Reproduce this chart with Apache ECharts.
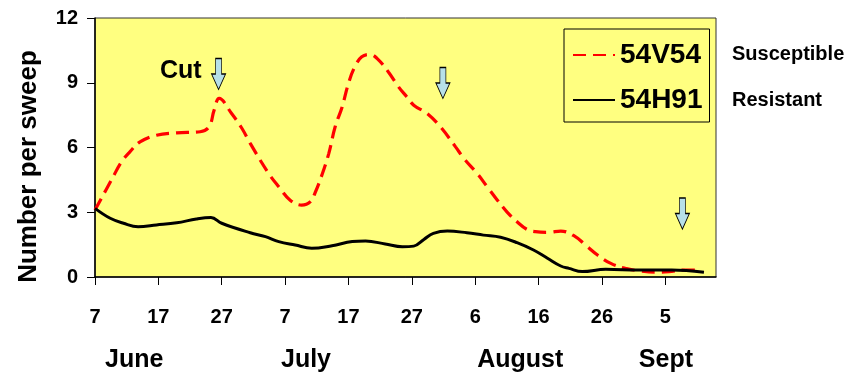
<!DOCTYPE html>
<html>
<head>
<meta charset="utf-8">
<script src="https://cdn.jsdelivr.net/npm/echarts@6/dist/echarts.min.js"></script>
<style>
html,body{margin:0;padding:0;background:#fff;}
#chart{width:852px;height:377px;}
</style>
</head>
<body>
<div id="chart"></div>
<script>
// Days counted from June 7
var tickDays = [0, 10, 20, 30, 40, 50, 60, 70, 80, 90];
var tickLabels = ['7', '17', '27', '7', '17', '27', '6', '16', '26', '5'];
var monthDays = [6.2, 33.3, 67.1, 90.1];
var monthNames = ['June', 'July', 'August', 'Sept'];

var suscDays = [0, 2.6, 4.2, 5.5, 7.1, 9.7, 12.9, 16.6, 18, 18.8, 19.6, 21.5, 23.2, 24.5, 27.4, 29, 30.8, 32.6, 34, 34.8, 35.8, 36.9, 37.9, 39, 40, 41, 42.1, 43.4, 44.5, 46.3, 47.9, 49.2, 50.3, 52.4, 54.5, 56.9, 58.2, 60.3, 61.9, 63.5, 65, 66.6, 68.2, 69.5, 71.6, 73.5, 75.8, 77.4, 79.3, 81.4, 83.7, 85.8, 88.5, 90.6, 92.7, 94.8];
var suscValues = [3.1, 4.5, 5.34, 5.8, 6.26, 6.57, 6.68, 6.73, 6.96, 7.73, 8.28, 7.6, 6.88, 6.19, 4.8, 4.18, 3.56, 3.33, 3.49, 3.95, 4.72, 5.73, 6.96, 7.88, 8.97, 9.74, 10.2, 10.31, 10.13, 9.5, 8.81, 8.35, 7.96, 7.58, 6.96, 6.03, 5.5, 4.8, 4.18, 3.56, 3.02, 2.56, 2.2, 2.1, 2.07, 2.13, 1.87, 1.48, 1.02, 0.63, 0.4, 0.29, 0.22, 0.25, 0.32, 0.32];

var resDays = [0, 2.4, 4.5, 6.8, 9.7, 12.9, 16, 18.3, 20, 24.5, 26.9, 29, 31.6, 34.2, 37.4, 40.6, 42.7, 45.8, 48.5, 50.3, 51.9, 53.4, 55.6, 58.7, 61.3, 64, 66.6, 69.2, 71.4, 73.5, 74.8, 76.9, 80.6, 85.8, 91, 96.1];
var resValues = [3.18, 2.72, 2.49, 2.33, 2.41, 2.51, 2.69, 2.76, 2.49, 2.05, 1.87, 1.64, 1.48, 1.33, 1.45, 1.64, 1.67, 1.53, 1.4, 1.43, 1.74, 2.02, 2.13, 2.05, 1.94, 1.84, 1.59, 1.25, 0.87, 0.51, 0.4, 0.25, 0.36, 0.32, 0.32, 0.22];

var arrowDays = [19.5, 54.9, 92.7];
var arrowTips = [8.69, 8.27, 2.22];

function pairs(xs, ys) { return xs.map(function (x, i) { return [x, ys[i]]; }); }

var FONT = "'Liberation Sans', Arial, sans-serif";

var chart = echarts.init(document.getElementById('chart'), null, {renderer: 'canvas'});
var option = {
  animation: false,
  backgroundColor: '#ffffff',
  grid: {left: 95, top: 18, right: 136, bottom: 100, show: true, backgroundColor: '#ffff80', borderColor: '#333', borderWidth: 1},
  xAxis: [{
    type: 'value', min: 0, max: 98, position: 'bottom',
    axisLine: {show: true, lineStyle: {color: '#000', width: 1.5}},
    axisTick: {show: true, customValues: tickDays, length: 8, lineStyle: {color: '#000'}},
    axisLabel: {customValues: tickDays, formatter: function (v) { var i = tickDays.indexOf(v); return i >= 0 ? tickLabels[i] : ''; },
      margin: 30, fontSize: 20, fontWeight: 'bold', color: '#000', fontFamily: FONT},
    splitLine: {show: false}
  }, {
    type: 'value', min: 0, max: 98, position: 'bottom',
    axisLine: {show: false}, axisTick: {show: false},
    axisLabel: {customValues: monthDays, formatter: function (v) { var i = monthDays.indexOf(v); return i >= 0 ? monthNames[i] : ''; },
      margin: 71, fontSize: 25, fontWeight: 'bold', color: '#000', fontFamily: FONT},
    splitLine: {show: false}
  }],
  yAxis: {
    type: 'value', min: 0, max: 12, interval: 3,
    name: 'Number per sweep', nameLocation: 'middle', nameGap: 53, nameRotate: 90,
    nameTextStyle: {fontSize: 26, fontWeight: 'bold', color: '#000', fontFamily: FONT, padding: [0, 38, 0, 0]},
    axisLine: {show: true, lineStyle: {color: '#000', width: 1.5}},
    axisTick: {show: true, length: 8, lineStyle: {color: '#000'}},
    axisLabel: {margin: 17, fontSize: 20, fontWeight: 'bold', color: '#000', fontFamily: FONT},
    splitLine: {show: false}
  },
  legend: {
    orient: 'vertical', left: 564, top: 29,
    backgroundColor: '#ffff80', borderColor: '#000', borderWidth: 1,
    padding: [12, 7, 8, 8], itemGap: 17, itemWidth: 42, itemHeight: 14,
    itemStyle: {opacity: 0},
    textStyle: {fontSize: 28, fontWeight: 'bold', color: '#000', fontFamily: FONT},
    data: ['54V54', '54H91']
  },
  series: [{
    name: '54V54', type: 'line', xAxisIndex: 0, data: pairs(suscDays, suscValues),
    smooth: 0.4, symbol: 'none', z: 3,
    lineStyle: {color: '#ff0000', width: 3.2, type: [13, 7]},
    itemStyle: {color: '#ff0000'}
  }, {
    name: '54H91', type: 'line', xAxisIndex: 0, data: pairs(resDays, resValues),
    smooth: 0.4, symbol: 'none', z: 4,
    lineStyle: {color: '#000', width: 3},
    itemStyle: {color: '#000'},
    markPoint: {
      symbol: 'path://M4,0 L10,0 L10,15 L14,15 L7,30 L0,15 L4,15 Z',
      symbolSize: [14, 31], symbolOffset: [0, '-50%'],
      itemStyle: {color: '#b7e0e8', borderColor: '#000', borderWidth: 1, opacity: 1},
      label: {show: false},
      data: arrowDays.map(function (d, i) { return {coord: [d, arrowTips[i]]}; })
    }
  }],
  graphic: [
    {type: 'text', left: 160, top: 59, style: {text: 'Cut', font: "bold 25px 'Liberation Sans', Arial, sans-serif", fill: '#000'}},
    {type: 'text', left: 732, top: 44, style: {text: 'Susceptible', font: "bold 20px 'Liberation Sans', Arial, sans-serif", fill: '#000'}},
    {type: 'text', left: 732, top: 90, style: {text: 'Resistant', font: "bold 20px 'Liberation Sans', Arial, sans-serif", fill: '#000'}}
  ]
};
chart.setOption(option);
</script>
</body>
</html>
